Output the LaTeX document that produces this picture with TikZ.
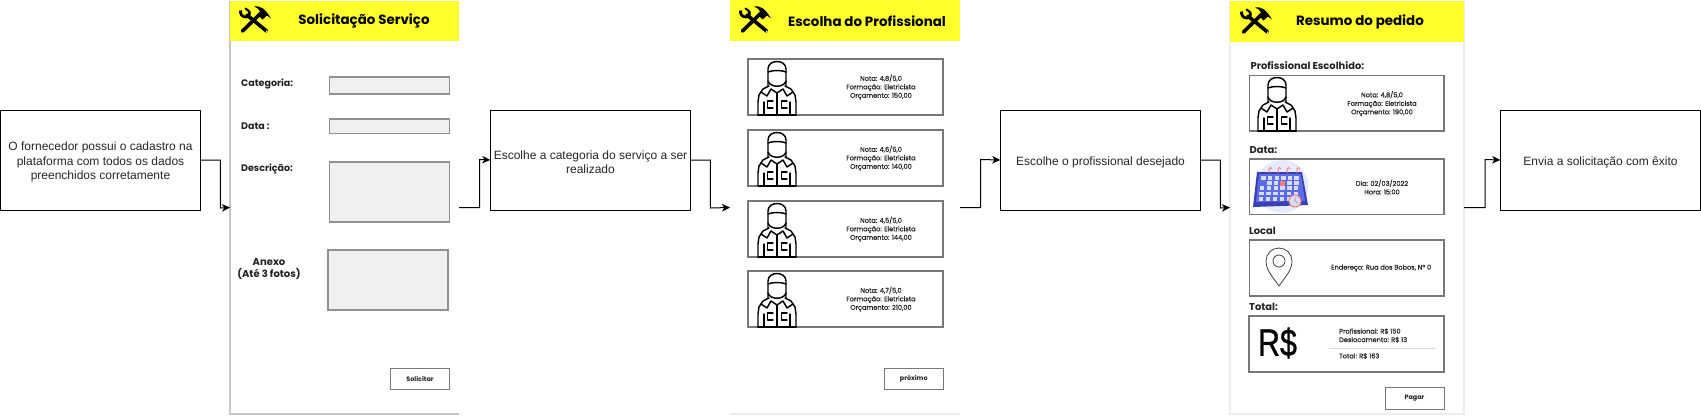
\documentclass[tikz,border=0pt]{standalone}
\usepackage{fontspec}
\setmainfont{Liberation Sans}
\newfontfamily\uifont{Poppins}
\newfontfamily\uimini{Poppins}[FakeBold=0.35]
\newfontfamily\bigfont{Liberation Sans}[FakeBold=0.8]
\usetikzlibrary{arrows.meta,calc}
\definecolor{headyellow}{HTML}{FFFF2E}
\definecolor{fieldfill}{HTML}{F0F0F0}
\definecolor{fieldline}{HTML}{909090}
\definecolor{cardline}{HTML}{787878}
\definecolor{inktext}{HTML}{222222}
\definecolor{calbody}{HTML}{3B3FB5}
\definecolor{calface}{HTML}{5C6BE6}
\definecolor{calcell}{HTML}{D5DDFC}
\definecolor{calring}{HTML}{F0807A}
\definecolor{calhalo}{HTML}{E6EAFB}
\newcommand{\fs}[1]{\fontsize{#1}{1.2\dimexpr #1pt\relax}\selectfont}
\newcommand{\upstrut}{\rule{0pt}{12.9pt}}
\newcommand{\rectnode}[6]{%
  \pgfmathsetmacro{\rw}{#5-#3}\pgfmathsetmacro{\rh}{#6-#4}%
  \node[#2,anchor=north west,minimum width=\rw pt,minimum height=\rh pt] (#1) at (#3,#4) {};}
\tikzset{
  x=1pt,y=-1pt,
  base/.style={inner sep=0pt,outer sep=0pt,rectangle},
  flowbox/.style={base,draw=black,line width=1pt,fill=white,minimum width=200.5pt,minimum height=100pt,align=center,font=\fs{12},text=black!85},
  screen/.style={base,fill=white},
  edgeline/.style={draw=#1,line width=1.1pt},
  header/.style={base,fill=headyellow},
  field/.style={base,draw=fieldline,line width=1.1pt,fill=fieldfill},
  card/.style={base,draw=cardline,line width=1.2pt,fill=white},
  btn/.style={base,draw=cardline,line width=1pt,fill=white},
  flow/.style={draw=black,line width=1pt,-{Stealth[length=8pt,width=7.5pt,inset=2.2pt]}},
  title/.style={font=\uifont\bfseries\fs{13.4},text=black,inner sep=0pt},
  lab/.style={font=\uifont\bfseries\fs{9.5},text=inktext,inner sep=0pt,align=center},
  sect/.style={font=\uifont\bfseries\fs{9.9},text=inktext,inner sep=0pt,anchor=west},
  mini/.style={font=\uimini\fontsize{6.6}{8.5}\selectfont,text=inktext,inner sep=0pt,align=center},
  btntext/.style={font=\uifont\bfseries\fontsize{6.4}{8}\selectfont,text=inktext,inner sep=0pt},
  worker/.pic={
    \begin{scope}[line width=1.45pt,draw=black,line join=round,line cap=round]
      \draw (10,27) -- (10,10) .. controls (10,0) and (28,0) .. (28,10) -- (28,27);
      \draw (10,13) .. controls (14,11) and (24,11) .. (28,13);
      \draw (10,22) .. controls (12,29) and (26,29) .. (28,22);
      \draw (11,27) -- (5,30) -- (1,36) -- (0,43) -- (0,56);
      \draw (27,27) -- (33,30) -- (37,36) -- (38,43) -- (38,56);
      \draw (3,33) -- (9,37) -- (13,30) -- (19,34) -- (25,30) -- (29,37) -- (35,33);
      \draw (19,34) -- (19,56);
      \draw (6,43) -- (6,56);
      \draw (32,43) -- (32,56);
      \draw (15,42) -- (9.5,42) -- (9.5,49) -- (15,49);
      \draw (29,42) -- (23.5,42) -- (23.5,49) -- (29,49);
      \draw (0,56) -- (38,56);
    \end{scope}
  },
  tools/.pic={
    \begin{scope}[draw=black,line cap=round,line join=round]
      \draw[line width=3.6pt] (3.5,25) -- (21,8);
      \fill[black] (15,0.5) .. controls (21,-0.5) and (26,2) .. (32,12.5) -- (28,9.5) -- (23.5,13.5) -- (18.5,8.5) -- (21,5.5) .. controls (20,3) and (18,1.5) .. (15,0.5) -- cycle;
      \draw[line width=3.6pt] (8,9) -- (27.5,25);
      \draw[line width=2.8pt,line cap=butt] (1.6,4.5) .. controls (1,8) and (3,11) .. (7,11) .. controls (10,11) and (11,8) .. (10,5);
      \draw[line width=2pt] (10,5) -- (6.5,2.5);
      \fill[white] (27.8,25.3) circle (.9);
    \end{scope}
  },
}
\begin{document}
\begin{tikzpicture}
\useasboundingbox (0,0) rectangle (1701,416);
% screens
\rectnode{scrA}{screen}{230}{1}{459}{414}
\rectnode{scrB}{screen}{730}{1}{960}{414}
\rectnode{scrC}{screen}{1230}{1}{1464}{414}
\draw[edgeline=black!22] (scrA.north west) -- (scrA.south west) -- (scrA.south east);
\draw[edgeline=black!7] (scrB.south west) -- (scrB.south east);
\draw[edgeline=black!7] (scrC.north west) -- (scrC.south west) -- (scrC.south east) -- (scrC.north east);
\rectnode{headA}{header}{230}{1}{459}{41}
\rectnode{headB}{header}{730}{0}{960}{41}
\rectnode{headC}{header}{1230}{1}{1464}{42}
\pic at (239,6) {tools};
\pic at (739,6) {tools};
\pic at (1240,7) {tools};
\node[title] (tA) at (364,21) {Solicitação Serviço};
\node[title] (tB) at (867,21) {Escolha do Profissional};
\node[title] (tC) at (1360,22) {Resumo do pedido};
% screen A
\node[lab,anchor=west] (l1) at (241,84) {Categoria:};
\node[lab,anchor=west] (l2) at (241,126) {Data :};
\node[lab,anchor=west] (l3) at (241,169) {Descrição:};
\node[lab,font=\uifont\bfseries\fontsize{10}{12.3}\selectfont] (l4) at (269,269) {Anexo\\(Até 3 fotos)};
\rectnode{f1}{field}{329.5}{77}{449.5}{94}
\rectnode{f2}{field}{329.5}{119}{449.5}{133.5}
\rectnode{f3}{field}{329.5}{162}{449.5}{222}
\rectnode{f4}{field}{328}{250}{448}{310}
\rectnode{b1}{btn}{390.5}{368}{449.5}{389}
\node[btntext] at (b1) {Solicitar};
% screen B cards
\rectnode{c1}{card}{748}{59}{943}{115}
\rectnode{c2}{card}{748}{130}{943}{186}
\rectnode{c3}{card}{748}{201}{943}{257}
\rectnode{c4}{card}{748}{271}{943}{327}
\foreach \yy in {59,130,201,271} {\pic at (758,\yy) {worker};}
\node[mini] (n1) at (881,87) {Nota: 4,8/5,0\\Formação: Eletricista\\Orçamento: 150,00};
\node[mini] (n2) at (881,158) {Nota: 4,6/5,0\\Formação: Eletricista\\Orçamento: 140,00};
\node[mini] (n3) at (881,229) {Nota: 4,5/5,0\\Formação: Eletricista\\Orçamento: 144,00};
\node[mini] (n4) at (881,299) {Nota: 4,7/5,0\\Formação: Eletricista\\Orçamento: 210,00};
\rectnode{b2}{btn}{884.5}{368}{943}{389}
\node[btntext] at (b2) {próximo};
% screen C
\node[sect] (s1) at (1250.5,66) {Profissional Escolhido:};
\rectnode{d1}{card}{1249.5}{75.5}{1444}{131}
\pic at (1258,75) {worker};
\node[mini] (m1) at (1382,103.5) {Nota: 4,8/5,0\\Formação: Eletricista\\Orçamento: 190,00};
\node[sect] (s2) at (1249.5,150) {Data:};
\rectnode{d2}{card}{1249.5}{159}{1444}{214.5}
% calendar
\begin{scope}
  \fill[calhalo] (1282,186.5) circle (26.5);
  \fill[calbody] (1257,172) -- (1302,172) -- (1308,205) -- (1253,207) -- cycle;
  \fill[calface] (1259,174) -- (1301,174) -- (1305,201) -- (1256,202) -- cycle;
  \foreach \r in {0,...,4} \foreach \c in {0,...,5} {
    \pgfmathsetmacro{\cx}{1263.5+\c*6.6-(\r*0.4)+(\c-2.5)*\r*0.1}
    \pgfmathsetmacro{\cy}{176+\r*5.2}
    \fill[calcell] (\cx-2.2,\cy) rectangle (\cx+2.2,\cy+3.8);
  }
  \fill[calface] (1261,181) rectangle (1266,186);
  \fill[calring] (1280,181) rectangle (1285,186);
  \foreach \xx in {1269,1278,1287,1297} {
    \draw[calring,line width=1pt] (\xx,173) -- (\xx,169) arc[start angle=180,end angle=360,radius=1.5];
  }
  \draw[calring,line width=1pt,fill=calcell] (1295,201) circle (6);
  \draw[calring,line width=.8pt] (1295,197) -- (1295,201) -- (1298,203);
\end{scope}
\node[mini] (m2) at (1382,187) {Dia: 02/03/2022\\Hora: 15:00};
\node[sect] (s3) at (1249,231) {Local};
\rectnode{d3}{card}{1249.5}{240}{1444}{296}
\draw[black!75,line width=.8pt] (1279,286) .. controls (1272,276) and (1266,270) .. (1266,261) arc[start angle=180,end angle=360,radius=13] .. controls (1292,270) and (1286,276) .. (1279,286) -- cycle;
\draw[black!75,line width=.8pt] (1279,261) circle (6);
\node[mini,anchor=west] (m3) at (1331,268) {Endereço: Rua dos Bobos, Nº 0};
\node[sect] (s4) at (1249,307) {Total:};
\rectnode{d4}{card}{1249}{316}{1444}{372}
\node[font=\bigfont\fs{38},text=black,inner sep=0pt,xscale=.8,transform shape] (rs) at (1277.5,343) {R\$};
\node[mini,anchor=west,align=left] (m4) at (1339,335.5) {Profissional: R\$ 150\\Deslocamento: R\$ 13};
\coordinate (rl) at (1329,348);
\coordinate (rr) at (1435,348);
\draw[black!15,line width=.8pt] (rl) -- (rr);
\node[mini,anchor=west] (m5) at (1339,356) {Total: R\$ 163};
\rectnode{b3}{btn}{1385}{387}{1444}{409}
\node[btntext] at (b3) {Pagar};
% flow boxes
\node[flowbox] (boxA) at (100.5,160) {\upstrut O fornecedor possui o cadastro na\\plataforma com todos os dados\\preenchidos corretamente};
\node[flowbox] (boxB) at (590.5,160) {\upstrut Escolhe a categoria do serviço a ser\\realizado};
\node[flowbox] (boxC) at (1100.5,160) {\upstrut Escolhe o profissional desejado};
\node[flowbox] (boxD) at (1600.5,160) {\upstrut Envia a solicitação com êxito};
% connectors
\draw[flow] (boxA.east) -| ++(19.5,48) -- (scrA.west);
\draw[flow] (scrA.east) -| ++(20.5,-48) -- (boxB.west);
\draw[flow] (boxB.east) -| ++(19.5,48) -- (scrB.west);
\draw[flow] (scrB.east) -| ++(20.5,-48) -- (boxC.west);
\draw[flow] (boxC.east) -| ++(19.5,48) -- (scrC.west);
\draw[flow] (scrC.east) -| ++(21,-48) -- (boxD.west);
\end{tikzpicture}
\end{document}
